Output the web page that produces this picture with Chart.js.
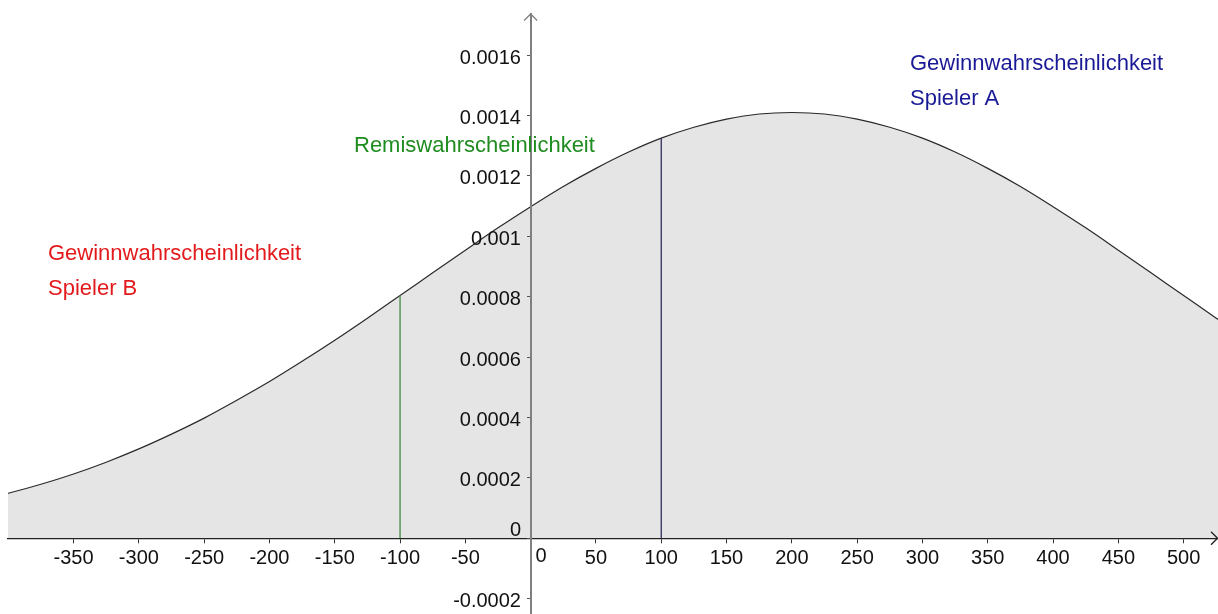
<!DOCTYPE html>
<html><head><meta charset="utf-8">
<script src="https://cdn.jsdelivr.net/npm/chart.js@4.4.1/dist/chart.umd.min.js"></script>
<style>html,body{margin:0;padding:0;background:#fff}#wrap{width:1218px;height:614px;position:relative}</style>
</head><body><div id="wrap"><canvas id="c" width="1218" height="614"></canvas></div>
<script>
// Curve samples (Elo difference -> density)
const xValues = [-425,-400,-375,-350,-325,-300,-275,-250,-225,-200,-175,-150,-125,-100,-75,-50,-25,0,25,50,75,100,125,150,175,200,225,250,275,300,325,350,375,400,425,450,475,500,525,550];
const densityValues = [0.000123,0.000149,0.000179,0.000213,0.000252,0.000296,0.000345,0.000398,0.000457,0.000519,0.000586,0.000656,0.000729,0.000804,0.000879,0.000954,0.001028,0.001098,0.001165,0.001225,0.001279,0.001325,0.001361,0.001388,0.001405,0.001410,0.001405,0.001388,0.001361,0.001325,0.001279,0.001225,0.001165,0.001098,0.001028,0.000954,0.000879,0.000804,0.000729,0.000656];
// Boundaries of the regions
const boundaryX = [-100, 100];
const boundaryY = [0.000804, 0.001325];
// Tick labels
const xTicks = [-350,-300,-250,-200,-150,-100,-50,0,50,100,150,200,250,300,350,400,450,500];
const yTicks = [-0.0002,0,0.0002,0.0004,0.0006,0.0008,0.001,0.0012,0.0014,0.0016];
// Annotation texts
const labelA = ['Gewinnwahrscheinlichkeit', 'Spieler A'];
const labelRemis = ['Remiswahrscheinlichkeit'];
const labelB = ['Gewinnwahrscheinlichkeit', 'Spieler B'];

const FONT = '"Liberation Sans", Arial, Helvetica, sans-serif';

const curve = xValues.map((x, i) => ({x: x, y: densityValues[i]}));

const overlay = {
  id: 'overlay',
  afterDraw(chart) {
    const ctx = chart.ctx;
    const xs = chart.scales.x, ys = chart.scales.y;
    const x0 = xs.getPixelForValue(0), y0 = ys.getPixelForValue(0);
    const area = chart.chartArea;
    ctx.save();
    // arrows
    ctx.lineWidth = 1.3;
    ctx.strokeStyle = '#808080';
    ctx.beginPath();
    ctx.moveTo(x0 - 6.5, area.top + 6.5); ctx.lineTo(x0, area.top); ctx.lineTo(x0 + 6.5, area.top + 6.5);
    ctx.stroke();
    ctx.strokeStyle = '#222';
    ctx.beginPath();
    ctx.moveTo(area.right - 7, y0 - 6.5); ctx.lineTo(area.right - 0.5, y0); ctx.lineTo(area.right - 7, y0 + 6.5);
    ctx.stroke();
    // origin labels
    ctx.fillStyle = '#111';
    ctx.font = '20px ' + FONT;
    ctx.textBaseline = 'middle';
    ctx.textAlign = 'center';
    ctx.fillText('0', x0 + 10.5, y0 + 18);
    ctx.textAlign = 'right';
    ctx.fillText('0', x0 - 9.5, y0 - 8);
    // annotations
    ctx.textAlign = 'left';
    ctx.textBaseline = 'alphabetic';
    ctx.font = '22px ' + FONT;
    ctx.fillStyle = '#1a1a96';
    ctx.fillText(labelA[0], 910, 70);
    ctx.fillText(labelA[1], 910, 105);
    ctx.fillStyle = '#1f8c1f';
    ctx.fillText(labelRemis[0], 354, 152);
    ctx.fillStyle = '#e31a1c';
    ctx.fillText(labelB[0], 48, 260);
    ctx.fillText(labelB[1], 48, 295);
    ctx.restore();
  }
};

const noPad = (s) => { s.paddingLeft = 0; s.paddingRight = 0; s.paddingTop = 0; s.paddingBottom = 0; };
const Y_MIN = -0.0002507, Y_MAX = 0.0017361;

new Chart(document.getElementById('c'), {
  type: 'line',
  data: {
    datasets: [
      {
        data: curve,
        borderColor: '#2a2a2a',
        borderWidth: 1.2,
        backgroundColor: '#e5e5e5',
        fill: 'origin',
        pointRadius: 0,
        cubicInterpolationMode: 'monotone',
        order: 2
      },
      {
        data: [{x: boundaryX[0], y: 0}, {x: boundaryX[0], y: boundaryY[0]}],
        borderColor: '#4e9150',
        borderWidth: 1.4,
        pointRadius: 0,
        fill: false,
        order: 0
      },
      {
        data: [{x: boundaryX[1], y: 0}, {x: boundaryX[1], y: boundaryY[1]}],
        borderColor: '#2f2f5c',
        borderWidth: 1.3,
        pointRadius: 0,
        fill: false,
        order: 0
      }
    ]
  },
  options: {
    responsive: false,
    animation: false,
    devicePixelRatio: 1,
    events: [],
    layout: {padding: {left: 8, top: 14, right: 0, bottom: 0}},
    plugins: {legend: {display: false}, tooltip: {enabled: false}, filler: {drawTime: 'beforeDatasetsDraw'}},
    scales: {
      x: {
        type: 'linear',
        position: {y: 0},
        min: -400.2,
        max: 526.3,
        afterBuildTicks: (s) => { s.ticks = xTicks.map(v => ({value: v})); },
        afterFit: noPad,
        grid: {display: true, drawOnChartArea: false, drawTicks: true, tickLength: 4, tickColor: '#333', tickWidth: 1, z: 1},
        border: {display: true, color: '#222', width: 1.3, z: 1},
        ticks: {
          autoSkip: false, maxRotation: 0, padding: 4, z: 1,
          color: '#111', font: {family: FONT, size: 20},
          callback: (v) => v === 0 ? '' : String(v)
        }
      },
      y: {
        type: 'linear',
        position: {x: 0},
        min: Y_MIN,
        max: Y_MAX,
        afterBuildTicks: (s) => { s.ticks = yTicks.map(v => ({value: v})); },
        afterFit: noPad,
        grid: {display: true, drawOnChartArea: false, drawTicks: true, tickLength: 3, tickColor: '#555', tickWidth: 1, z: 1},
        border: {display: true, color: '#808080', width: 2, z: 1},
        ticks: {display: false}
      },
      yLabels: {
        type: 'linear',
        axis: 'y',
        position: {x: -7.4},
        min: Y_MIN,
        max: Y_MAX,
        afterBuildTicks: (s) => { s.ticks = yTicks.map(v => ({value: v})); },
        afterFit: noPad,
        grid: {display: false},
        border: {display: false},
        ticks: {
          autoSkip: false, labelOffset: 3, z: 1,
          color: '#111', font: {family: FONT, size: 20},
          callback: (v) => v === 0 ? '' : String(v)
        }
      }
    }
  },
  plugins: [overlay]
});
</script>
</body></html>
